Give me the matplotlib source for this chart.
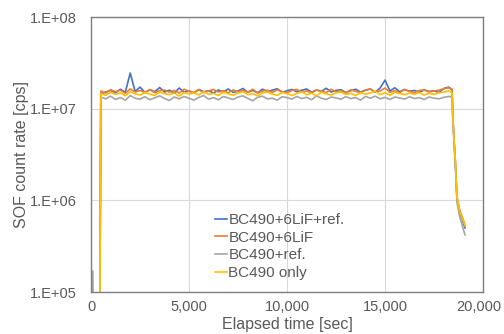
import numpy as np
import matplotlib
matplotlib.use('Agg')
import matplotlib.pyplot as plt
from matplotlib.transforms import ScaledTranslation

plt.rcParams['font.family'] = ['Liberation Sans', 'DejaVu Sans']

# Colors (Excel default palette)
blue = '#4472C4'
orange = '#ED7D31'
gray = '#A5A5A5'
yellow = '#FFC000'
txt = '#595959'

# --- data (count rate in units of 1e6 cps) ---
# plateau sampled every 250 s starting at 500 s
plateau_t0 = 500
plateau_dt = 250

blue_plateau = [
    14.5, 15.2, 15.8, 14.9, 16.3, 15.1, 24.5, 15.4,
    17.2, 15.0, 16.1, 15.3, 17.0, 15.2, 15.9, 14.8,
    16.8, 15.1, 15.6, 14.9, 16.2, 15.3, 15.7, 14.8,
    16.0, 15.2, 16.4, 15.0, 15.6, 16.6, 15.1, 15.8,
    14.9, 16.3, 15.4, 15.9, 16.5, 15.0, 15.7, 16.2,
    15.3, 15.9, 16.4, 15.1, 16.0, 15.4, 16.7, 15.2,
    15.8, 16.1, 15.0, 15.7, 16.3, 15.2, 15.9, 16.4,
    15.1, 16.8, 20.5, 15.6, 16.9, 15.3, 16.2, 15.5,
    15.8, 15.1, 16.0, 15.4, 15.7, 15.0, 16.6, 17.2,
]
orange_plateau = [
    15.6, 14.8, 16.1, 15.3, 15.9, 14.7, 16.4, 15.2,
    15.8, 15.0, 16.2, 14.9, 15.7, 16.0, 15.1, 15.8,
    14.8, 16.3, 15.4, 15.0, 16.1, 14.9, 15.6, 16.2,
    15.2, 15.7, 14.9, 16.0, 15.3, 15.8, 15.1, 16.3,
    14.8, 15.6, 15.9, 15.0, 16.1, 15.4, 14.9, 15.8,
    16.2, 15.1, 15.6, 14.9, 16.0, 15.5, 15.0, 16.3,
    15.2, 15.7, 14.8, 16.1, 15.4, 15.0, 15.9, 16.4,
    15.2, 15.6, 16.8, 15.1, 15.7, 15.0, 16.2, 15.4,
    14.9, 15.8, 16.0, 15.2, 15.6, 15.9, 16.5, 16.9,
]
gray_plateau = [
    13.4, 12.8, 13.7, 12.6, 13.2, 12.4, 13.9, 13.0,
    12.7, 13.5, 12.5, 13.1, 13.8, 12.9, 12.3, 13.4,
    12.8, 13.6, 13.0, 12.4, 13.3, 13.9, 12.7, 13.2,
    12.5, 13.6, 13.1, 12.6, 13.4, 13.8, 12.9, 12.2,
    13.3, 13.7, 12.8, 13.0, 12.4, 13.5, 13.2, 12.7,
    13.6, 12.9, 13.3, 12.5, 13.8, 13.0, 12.6, 13.4,
    13.1, 12.7, 13.5, 12.9, 13.2, 12.4, 13.6, 13.0,
    13.7, 12.8, 13.3, 12.6, 13.4, 13.1, 12.7, 13.5,
    12.9, 13.2, 12.6, 13.4, 13.0, 12.8, 13.3, 13.6,
]
yellow_plateau = [
    14.6, 14.0, 15.1, 14.3, 14.9, 13.8, 15.3, 14.5,
    14.1, 15.0, 14.4, 13.9, 15.2, 14.6, 14.2, 14.8,
    13.7, 15.0, 14.4, 14.9, 14.1, 15.4, 14.3, 14.7,
    13.9, 15.1, 14.5, 14.0, 14.8, 15.3, 14.2, 14.6,
    13.8, 14.9, 15.2, 14.4, 14.0, 15.0, 14.6, 13.9,
    14.7, 15.3, 14.2, 14.8, 13.8, 15.1, 14.5, 14.1,
    14.9, 15.2, 14.3, 14.7, 13.9, 15.0, 14.4, 14.8,
    15.5, 14.2, 14.9, 14.0, 15.1, 14.6, 14.2, 14.8,
    14.4, 15.0, 14.1, 14.7, 14.3, 14.9, 15.2, 15.6,
]

# start (beam off -> on) and tail decay after beam off
start_t = [0, 90, 120, 450]
start_blue = [0.05, 0.05, 0.05, 0.05]
start_orange = [0.05, 0.05, 0.05, 0.05]
start_gray = [0.05, 0.17, 0.05, 0.05]
start_yellow = [0.05, 0.05, 0.05, 0.05]

decay_t = [18420, 18460, 18520, 18580, 18670, 18800, 18950, 19080]
decay_blue = [16.0, 8.0, 4.5, 2.8, 1.05, 0.75, 0.60, 0.50]
decay_orange = [16.3, 8.2, 4.7, 2.9, 1.10, 0.80, 0.65, 0.54]
decay_gray = [13.4, 7.5, 4.2, 2.6, 0.95, 0.68, 0.52, 0.42]
decay_yellow = [15.0, 8.1, 4.6, 2.85, 1.08, 0.78, 0.63, 0.53]

labels = ['BC490+6LiF+ref.', 'BC490+6LiF', 'BC490+ref.', 'BC490 only']
colors = [blue, orange, gray, yellow]

plateau_t = plateau_t0 + plateau_dt * np.arange(len(blue_plateau))
series = [
    (start_blue, blue_plateau, decay_blue),
    (start_orange, orange_plateau, decay_orange),
    (start_gray, gray_plateau, decay_gray),
    (start_yellow, yellow_plateau, decay_yellow),
]

fig = plt.figure(figsize=(5.04, 3.34), dpi=100)
ax = fig.add_axes([0.1806, 0.1257, 0.7778, 0.8234])

for (s, p, d), c, lab in zip(series, colors, labels):
    t = np.concatenate([start_t, plateau_t, decay_t])
    v = np.concatenate([s, p, d]) * 1e6
    ax.plot(t, v, color=c, linewidth=1.2, label=lab)

ax.set_yscale('log')
ax.set_xlim(0, 20000)
ax.set_ylim(1e5, 1e8)
ax.set_yticks([1e5, 1e6, 1e7, 1e8])
ax.set_yticklabels(['1.E+05', '1.E+06', '1.E+07', '1.E+08'])
ax.yaxis.set_minor_locator(matplotlib.ticker.NullLocator())
ax.set_xticks([0, 5000, 10000, 15000, 20000])
ax.set_xticklabels(['0', '5,000', '10,000', '15,000', '20,000'])
ax.tick_params(length=0, labelsize=10.5, labelcolor=txt)
ax.tick_params(axis='y', pad=10)
ax.tick_params(axis='x', pad=6)
# keep last x label inside the figure, as in the reference
last = ax.get_xticklabels()[-1]
last.set_transform(last.get_transform() + ScaledTranslation(-3 / 72, 0, fig.dpi_scale_trans))
ax.grid(True, color='#D9D9D9', linewidth=0.8)
ax.set_axisbelow(True)
for sp in ax.spines.values():
    sp.set_color('#7F7F7F')
    sp.set_linewidth(1.0)

ax.set_xlabel('Elapsed time [sec]', fontsize=11.5, color=txt, labelpad=2)
ax.set_ylabel('SOF count rate [cps]', fontsize=11.5, color=txt, labelpad=1)

leg = ax.legend(loc='upper left', bbox_to_anchor=(0.30, 0.31), frameon=False,
                fontsize=11, handlelength=0.8, handletextpad=0.1,
                labelspacing=0.24, borderaxespad=0)
for t in leg.get_texts():
    t.set_color(txt)

plt.savefig('out.png', dpi=100, facecolor='white')
